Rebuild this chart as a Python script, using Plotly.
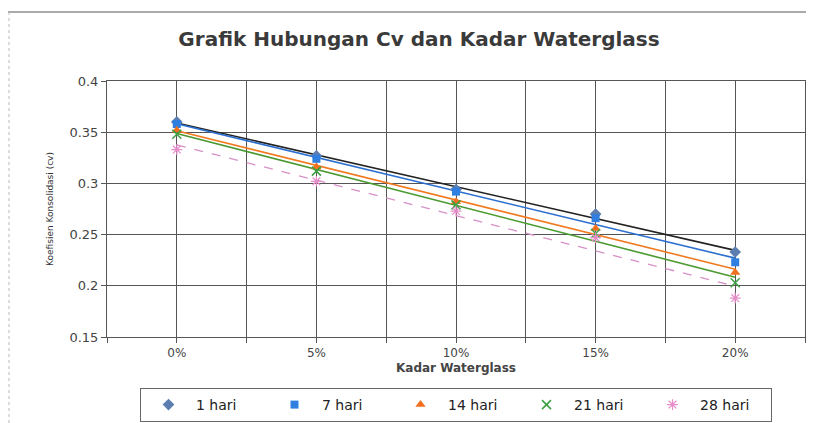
import numpy as np
import plotly.graph_objects as go

categories = ["0%", "5%", "10%", "15%", "20%"]
series_names = ["1 hari", "7 hari", "14 hari", "21 hari", "28 hari"]
cv_1 = [0.360, 0.327, 0.294, 0.270, 0.233]
cv_7 = [0.358, 0.324, 0.292, 0.266, 0.223]
cv_14 = [0.352, 0.316, 0.282, 0.256, 0.213]
cv_21 = [0.348, 0.312, 0.279, 0.251, 0.203]
cv_28 = [0.333, 0.302, 0.273, 0.247, 0.188]
y_ticks = [0.15, 0.2, 0.25, 0.3, 0.35, 0.4]

all_series = [cv_1, cv_7, cv_14, cv_21, cv_28]
marker_styles = [
    dict(symbol="diamond", color="#5b7db0", size=9),
    dict(symbol="square", color="#2f7fe0", size=8),
    dict(symbol="triangle-up", color="#f07020", size=9),
    dict(symbol="x-thin-open", color="#3aa040", size=9, line=dict(color="#3aa040", width=1.5)),
    dict(symbol="asterisk-open", color="#e68cc8", size=9, line=dict(color="#e68cc8", width=1.2)),
]
trend_styles = [
    dict(color="#222222", width=1.6),
    dict(color="#2a6fd0", width=1.6),
    dict(color="#f07a20", width=1.6),
    dict(color="#4a9a30", width=1.6),
    dict(color="#d890c8", width=1.3, dash="dash"),
]

xpos = np.arange(len(categories))
fig = go.Figure()
for name, vals, ts in zip(series_names, all_series, trend_styles):
    coef = np.polyfit(xpos, vals, 1)
    fig.add_trace(go.Scatter(x=xpos, y=np.polyval(coef, xpos), mode="lines",
                             line=ts, showlegend=False, hoverinfo="skip"))
for name, vals, ms in zip(series_names, all_series, marker_styles):
    fig.add_trace(go.Scatter(x=xpos, y=vals, mode="markers", name=name, marker=ms))

tickvals = []
ticktext = []
for i, c in enumerate(categories):
    tickvals += [i - 0.5, i]
    ticktext += ["", c]
tickvals.append(len(categories) - 0.5)
ticktext.append("")

W, H = 806, 415
fig.update_layout(
    width=W, height=H,
    margin=dict(l=99, r=9, t=73, b=86, autoexpand=False),
    paper_bgcolor="white", plot_bgcolor="white",
    font=dict(family="DejaVu Sans, Arial", color="#444444"),
    title=dict(text="<b>Grafik Hubungan Cv dan Kadar Waterglass</b>",
               x=411 / W, xanchor="center", y=1 - 31 / H, yanchor="middle",
               yref="container", font=dict(size=20, color="#3a3a3a")),
    xaxis=dict(range=[-0.5, 4.5], tickmode="array", tickvals=tickvals, ticktext=ticktext,
               showgrid=True, gridcolor="#555555", gridwidth=1,
               showline=True, linecolor="#555555", mirror=True,
               ticks="outside", ticklen=5, tickcolor="#555555",
               tickfont=dict(size=12, color="#444444"),
               title=dict(text="<b>Kadar Waterglass</b>", font=dict(size=12, color="#444444"), standoff=4),
               zeroline=False),
    yaxis=dict(range=[0.15, 0.4], tickvals=y_ticks, ticktext=[f"{v:g}" for v in y_ticks],
               showgrid=True, gridcolor="#555555", gridwidth=1,
               showline=True, linecolor="#555555", mirror=True,
               ticks="outside", ticklen=5, tickcolor="#555555",
               tickfont=dict(size=13, color="#444444"),
               title=dict(text="Koefisien Konsolidasi (cv)", font=dict(size=9, color="#333333"), standoff=14),
               zeroline=False),
    legend=dict(orientation="h", x=0.5, xanchor="center", yref="container",
                y=1 - 380 / H, yanchor="top",
                bordercolor="#666666", borderwidth=1, bgcolor="white",
                font=dict(size=14, color="#222222"),
                itemwidth=45, entrywidth=66, entrywidthmode="pixels"),
    shapes=[
        dict(type="line", xref="paper", yref="paper", x0=-99 / 698, x1=1.02, y0=1 + 69 / 256, y1=1 + 69 / 256,
             line=dict(color="#555555", width=1)),
        dict(type="line", xref="paper", yref="paper", x0=-98 / 698, x1=-98 / 698, y0=1 + 69 / 256, y1=-0.34,
             line=dict(color="#bbbbbb", width=1, dash="dot")),
    ],
)

fig.write_html("out.html")
